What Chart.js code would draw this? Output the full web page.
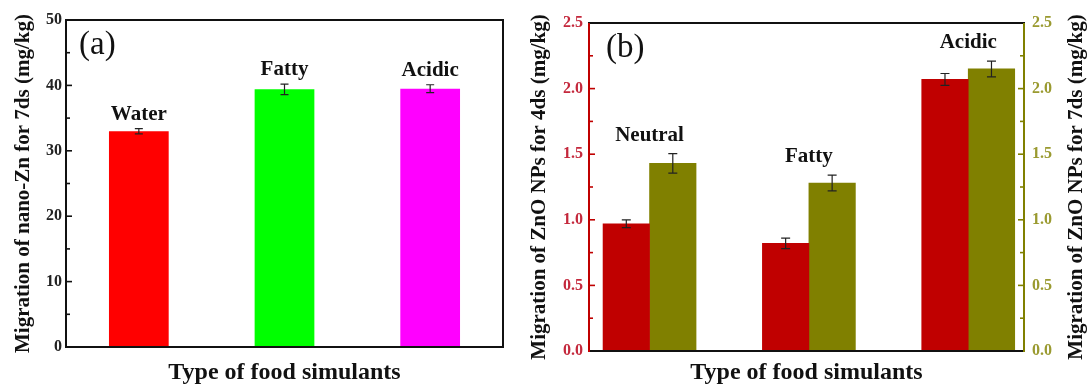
<!DOCTYPE html>
<html lang="en">
<head>
<meta charset="UTF-8" />
<title>Migration of nano-Zn / ZnO NPs</title>
<script src="https://cdn.jsdelivr.net/npm/chart.js@4.4.0/dist/chart.umd.min.js"></script>
<style>
  html, body { margin: 0; padding: 0; background: #fff; }
  .wrap { position: relative; width: 1089px; height: 388px; overflow: hidden; }
  #boxA { position: absolute; left: 0; top: 0; width: 520px; height: 388px; }
  #boxB { position: absolute; left: 520px; top: 0; width: 569px; height: 388px; }
</style>
</head>
<body>
<div class="wrap">
  <div id="boxA"><canvas id="chartA"></canvas></div>
  <div id="boxB"><canvas id="chartB"></canvas></div>
</div>
<script>
// panel (a): nano-Zn, 7 days
var simA = ["Water", "Fatty", "Acidic"];
var migA = [33.0, 39.4, 39.5];
var errA = [0.4, 0.8, 0.6];
var colA = ["#ff0000", "#00ff00", "#ff00ff"];
var ticksA = [0, 10, 20, 30, 40, 50];

// panel (b): ZnO NPs, 4 days (left axis) and 7 days (right axis)
var simB = ["Neutral", "Fatty", "Acidic"];
var mig4 = [0.97, 0.82, 2.07];
var err4 = [0.03, 0.04, 0.045];
var mig7 = [1.43, 1.28, 2.15];
var err7 = [0.075, 0.06, 0.06];
var ticksB = [0.0, 0.5, 1.0, 1.5, 2.0, 2.5];

var serif = "'Liberation Serif', 'Times New Roman', serif";
Chart.defaults.font.family = serif;
Chart.defaults.color = "#111";

function valOf(d) { return typeof d === "object" ? d.y : d; }

// error bars, bar labels, frame, inward ticks, panel letter
var panelDecor = {
  id: "panelDecor",
  afterDatasetsDraw: function (chart, args, o) {
    var ctx = chart.ctx, a = chart.chartArea;
    ctx.save();

    var tops = [], xs = [];
    chart.data.datasets.forEach(function (ds, i) {
      var meta = chart.getDatasetMeta(i);
      var ys = chart.scales[meta.yAxisID];
      meta.data.forEach(function (bar, j) {
        var v = valOf(ds.data[j]);
        var top = ys.getPixelForValue(v + ds.errors[j]);
        var bot = ys.getPixelForValue(v - ds.errors[j]);
        ctx.strokeStyle = "#222";
        ctx.lineWidth = 1.2;
        ctx.beginPath();
        ctx.moveTo(bar.x, top); ctx.lineTo(bar.x, bot);
        ctx.moveTo(bar.x - o.cap, top); ctx.lineTo(bar.x + o.cap, top);
        ctx.moveTo(bar.x - o.cap, bot); ctx.lineTo(bar.x + o.cap, bot);
        ctx.stroke();
        tops[j] = tops[j] === undefined ? top : Math.min(tops[j], top);
        xs[j] = (xs[j] || []).concat(bar.x);
      });
    });

    // simulant names above the bars
    ctx.fillStyle = "#111";
    ctx.font = "bold 21px " + serif;
    ctx.textAlign = "center";
    ctx.textBaseline = "alphabetic";
    o.names.forEach(function (name, j) {
      var cx = xs[j].reduce(function (s, x) { return s + x; }, 0) / xs[j].length;
      ctx.fillText(name, cx, tops[j] - o.gap);
    });

    // frame
    ctx.lineWidth = 2;
    function line(x1, y1, x2, y2, c) {
      ctx.strokeStyle = c;
      ctx.beginPath(); ctx.moveTo(x1, y1); ctx.lineTo(x2, y2); ctx.stroke();
    }
    line(a.left - 1, a.top, a.right + 1, a.top, "#111");
    line(a.left - 1, a.bottom, a.right + 1, a.bottom, "#111");
    line(a.right, a.top, a.right, a.bottom + 1, o.rightColor);
    line(a.left, a.top, a.left, a.bottom + 1, o.leftColor);

    // inward ticks
    o.axes.forEach(function (ax) {
      var s = chart.scales[ax.id];
      var dir = ax.side === "left" ? 1 : -1;
      var x0 = ax.side === "left" ? a.left : a.right;
      var step = s.ticks[1].value - s.ticks[0].value;
      ctx.strokeStyle = ax.color;
      ctx.lineWidth = 1.6;
      s.ticks.forEach(function (t, k) {
        var y = s.getPixelForValue(t.value);
        if (k > 0 && k < s.ticks.length - 1) {
          ctx.beginPath(); ctx.moveTo(x0, y); ctx.lineTo(x0 + dir * 6, y); ctx.stroke();
        }
        if (k < s.ticks.length - 1) {
          var ym = s.getPixelForValue(t.value + step / 2);
          ctx.beginPath(); ctx.moveTo(x0, ym); ctx.lineTo(x0 + dir * 4, ym); ctx.stroke();
        }
      });
    });

    // panel letter
    ctx.fillStyle = "#111";
    ctx.font = "33px " + serif;
    ctx.textAlign = "left";
    ctx.textBaseline = "middle";
    ctx.fillText(o.letter, a.left + o.letterDx, a.top + 25);

    // right axis title (reads bottom to top)
    if (o.rightTitle) {
      ctx.save();
      ctx.translate(a.right + 53, (a.top + a.bottom) / 2);
      ctx.rotate(-Math.PI / 2);
      ctx.font = "bold 21px " + serif;
      ctx.textAlign = "center";
      ctx.textBaseline = "middle";
      ctx.fillText(o.rightTitle, 0, 0);
      ctx.restore();
    }
    ctx.restore();
  }
};

var noGrid = { display: false, drawTicks: false };

new Chart(document.getElementById("chartA"), {
  type: "bar",
  data: {
    labels: simA,
    datasets: [{
      data: migA,
      errors: errA,
      backgroundColor: colA,
      barPercentage: 0.41,
      categoryPercentage: 1
    }]
  },
  options: {
    responsive: true,
    maintainAspectRatio: false,
    animation: false,
    layout: { padding: { left: 0, top: 20, right: 17, bottom: 0 } },
    plugins: {
      legend: { display: false },
      tooltip: { enabled: false },
      panelDecor: {
        names: simA, gap: 9, cap: 4, letter: "(a)", letterDx: 13,
        leftColor: "#111", rightColor: "#111",
        axes: [{ id: "y", side: "left", color: "#111" }]
      }
    },
    scales: {
      x: {
        grid: noGrid, border: { display: false }, ticks: { display: false },
        title: { display: true, text: "Type of food simulants", color: "#111",
                 font: { size: 24, weight: "bold" }, padding: { top: 0, bottom: 1 } },
        afterFit: function (s) { s.height = 41; }
      },
      y: {
        min: 0, max: 50,
        grid: noGrid, border: { display: false },
        ticks: { padding: 4, color: "#222", font: { size: 16, weight: "bold" } },
        afterBuildTicks: function (s) { s.ticks = ticksA.map(function (v) { return { value: v }; }); },
        title: { display: true, text: "Migration of nano-Zn for 7ds (mg/kg)", color: "#111",
                 font: { size: 21, weight: "bold" }, padding: { top: 11, bottom: 0 } },
        afterFit: function (s) { s.width = 66; }
      }
    }
  },
  plugins: [panelDecor]
});

new Chart(document.getElementById("chartB"), {
  type: "bar",
  data: {
    datasets: [{
      label: "4 days",
      data: simB.map(function (c, i) { return { x: i + 1, y: mig4[i] }; }),
      errors: err4,
      backgroundColor: "#c00000",
      yAxisID: "y",
      barThickness: 46.5
    }, {
      label: "7 days",
      data: simB.map(function (c, i) { return { x: i + 1, y: mig7[i] }; }),
      errors: err7,
      backgroundColor: "#808000",
      yAxisID: "y2",
      barThickness: 46.5
    }]
  },
  options: {
    responsive: true,
    maintainAspectRatio: false,
    animation: false,
    layout: { padding: { left: 0, top: 23, right: 0, bottom: 0 } },
    plugins: {
      legend: { display: false },
      tooltip: { enabled: false },
      panelDecor: {
        names: simB, gap: 13, cap: 4.5, letter: "(b)", letterDx: 17,
        leftColor: "#c00000", rightColor: "#808000",
        rightTitle: "Migration of ZnO NPs for 7ds (mg/kg)",
        axes: [{ id: "y", side: "left", color: "#c00000" },
               { id: "y2", side: "right", color: "#808000" }]
      }
    },
    scales: {
      x: {
        type: "linear", min: 0.62, max: 3.35, offset: false,
        grid: noGrid, border: { display: false }, ticks: { display: false },
        title: { display: true, text: "Type of food simulants", color: "#111",
                 font: { size: 24, weight: "bold" }, padding: { top: 0, bottom: 1 } },
        afterFit: function (s) { s.height = 37; }
      },
      y: {
        position: "left", min: 0, max: 2.5,
        grid: noGrid, border: { display: false },
        ticks: { padding: 6, color: "#c4283c", font: { size: 16, weight: "bold" },
                 callback: function (v) { return v.toFixed(1); } },
        afterBuildTicks: function (s) { s.ticks = ticksB.map(function (v) { return { value: v }; }); },
        title: { display: true, text: "Migration of ZnO NPs for 4ds (mg/kg)", color: "#111",
                 font: { size: 21, weight: "bold" }, padding: { top: 7, bottom: 0 } },
        afterFit: function (s) { s.width = 69; }
      },
      y2: {
        position: "right", min: 0, max: 2.5,
        grid: noGrid, border: { display: false },
        ticks: { padding: 8, color: "#9a9a30", font: { size: 16, weight: "bold" },
                 callback: function (v) { return v.toFixed(1); } },
        afterBuildTicks: function (s) { s.ticks = ticksB.map(function (v) { return { value: v }; }); },
        afterFit: function (s) { s.width = 65; }
      }
    }
  },
  plugins: [panelDecor]
});
</script>
</body>
</html>
